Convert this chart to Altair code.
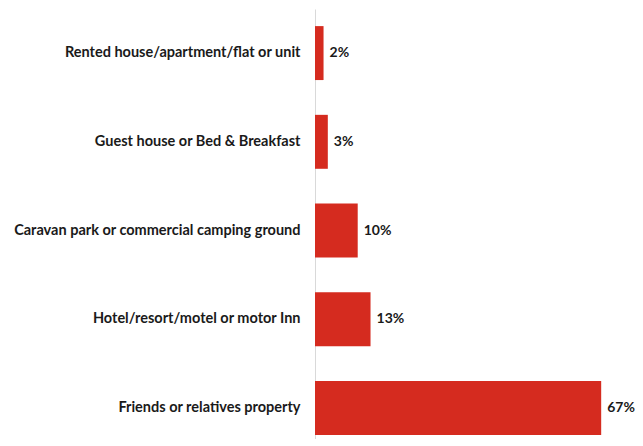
import altair as alt
import pandas as pd

categories = [
    "Rented house/apartment/flat or unit",
    "Guest house or Bed & Breakfast",
    "Caravan park or commercial camping ground",
    "Hotel/resort/motel or motor Inn",
    "Friends or relatives property",
]
values = [2, 3, 10, 13, 67]
labels = ["2%", "3%", "10%", "13%", "67%"]

df = pd.DataFrame({"cat": categories, "val": values, "lab": labels})

FONT = "Lato"
FS = 14.5

y_enc = alt.Y(
    "cat:N",
    sort=categories,
    title=None,
    scale=alt.Scale(paddingInner=0.392, paddingOuter=0.119, align=0.81),
    axis=alt.Axis(
        domain=True,
        domainColor="#d9d9d9",
        domainWidth=1,
        ticks=False,
        labelFont=FONT,
        labelFontWeight="bold",
        labelFontSize=FS,
        labelColor="#1a1a1a",
        labelPadding=15,
        labelLimit=400,
        grid=False,
    ),
)
x_enc = alt.X("val:Q", scale=alt.Scale(domain=[0, 70], nice=False), axis=None)

bars = alt.Chart(df).mark_bar(color="#d52b1f").encode(y=y_enc, x=x_enc)
text = alt.Chart(df).mark_text(
    align="left", baseline="middle", dx=6, font=FONT, fontWeight="bold",
    fontSize=14, color="#1a1a1a"
).encode(y=alt.Y("cat:N", sort=categories), x=x_enc, text="lab:N")

chart = (
    alt.layer(bars, text)
    .properties(
        width=299,
        height=430,
        background="white",
        padding={"left": 307, "top": 1, "right": 21, "bottom": 0},
        autosize=alt.AutoSizeParams(type="none"),
    )
    .configure_view(stroke=None, strokeWidth=0)
)

chart.save("out.html", embed_options={"renderer": "svg", "actions": False})
